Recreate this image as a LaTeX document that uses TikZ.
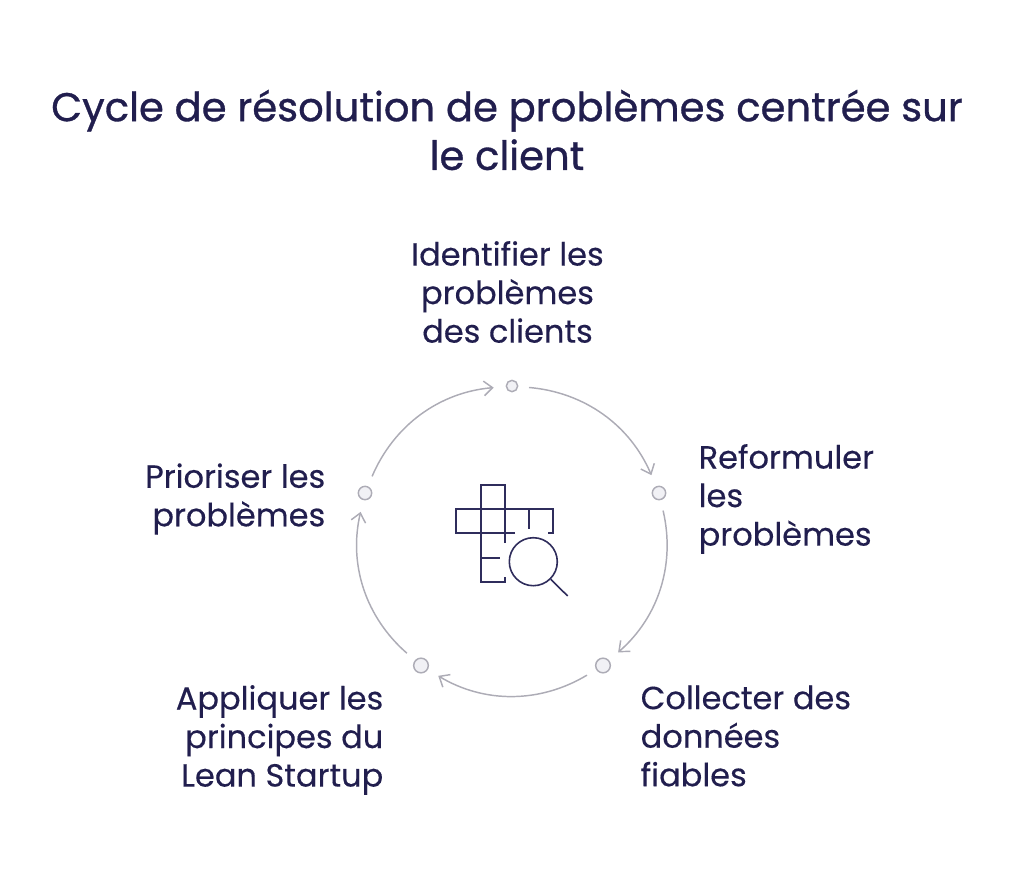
\documentclass[tikz,border=0pt]{standalone}
\usepackage{fontspec}
\setmainfont{Poppins}
\usepackage{xcolor}
\usetikzlibrary{arrows.meta}
\definecolor{inkblue}{HTML}{211E4E}
\definecolor{iconblue}{HTML}{2F2D5C}
\definecolor{ringgray}{HTML}{ADACB6}
\definecolor{dotfill}{HTML}{F1F1F5}

\newcommand{\medium}[1]{\addfontfeatures{RawFeature={embolden=#1}}}
\tikzset{
    step label/.style={text=inkblue, font=\fontsize{24}{28.9}\selectfont\medium{0.3}},
    head label/.style={text=inkblue, font=\fontsize{30.1}{36.5}\selectfont\medium{0.8}, align=center},
    dot/.style={circle, draw=ringgray, fill=dotfill, line width=1.1pt, inner sep=0pt},
    ring/.style={->, >={Straight Barb[length=6.5pt,width=11pt]}, draw=ringgray, line width=1.1pt},
    icon/.style={draw=iconblue, line width=1.2pt}
}

\begin{document}
\begin{tikzpicture}[x=0.75pt, y=-0.75pt]
    \useasboundingbox (0,0) rectangle (1024,869);

    \node[head label]                (title)  at (507,130)   {Cycle de résolution de problèmes centrée sur\\le client};

    \node[dot, minimum size=8.5pt]   (top)    at (512,386)   {};
    \node[dot, minimum size=10pt]    (right)  at (659,493)   {};
    \node[dot, minimum size=11pt]    (lowr)   at (603,665.5) {};
    \node[dot, minimum size=11pt]    (lowl)   at (421,665.5) {};
    \node[dot, minimum size=10pt]    (left)   at (365,493)   {};

    \node[step label, align=center]  (ltop)   at (507.5,292) {Identifier les\\problèmes\\des clients};
    \node[step label, align=left,  anchor=west] (lright) at (694,499) {Reformuler\\les\\problèmes};
    \node[step label, align=left,  anchor=west] (llowr)  at (636,736) {Collecter des\\données\\fiables};
    \node[step label, align=right, anchor=east] (llowl)  at (388,740) {Appliquer les\\principes du\\Lean Startup};
    \node[step label, align=right, anchor=east] (lleft)  at (330,499) {Prioriser les\\problèmes};

    % ring between the dots
    \path[ring, shorten <=8pt, shorten >=9pt]
        (top)   edge [bend left=31] (right)
        (right) edge [bend left=31] (lowr)
        (lowr)  edge [bend left=31] (lowl)
        (lowl)  edge [bend left=31] (left)
        (left)  edge [bend left=31] (top);

    % grid and lens
    \draw[icon] (505,543) -- (505,485) -- (481,485) -- (481,582) -- (505,582) -- (505,576.5);
    \draw[icon] (515,533) -- (456,533) -- (456,509) -- (553,509) -- (553,533) -- (548,533);
    \draw[icon] (529,509) -- (529,529);
    \draw[icon] (481,558) -- (500,558);
    \draw[icon] (533.3,561.7) circle [radius=24];
    \draw[icon] (550.7,579.3) -- (567.7,596);
\end{tikzpicture}
\end{document}
